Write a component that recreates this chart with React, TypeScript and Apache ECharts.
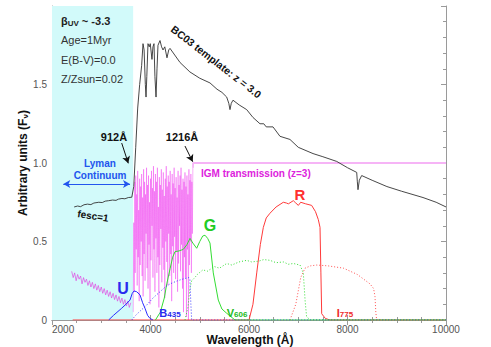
import React, { useEffect, useRef } from "react";
import * as echarts from "echarts";

// ---- data ----
const X_MIN = 2000;
const X_MAX = 10000;
const Y_MAX = 2.0;
const LYMAN_LIMIT = 3648; // 912 A * (1+z)
const LYA = 4864; // 1216 A * (1+z)

const BC03: [number, number][] = [
  [2450, 0.72], [2520, 0.726], [2580, 0.722], [2650, 0.734], [2720, 0.738], [2790, 0.735], [2850, 0.745],
  [2950, 0.75], [3020, 0.748], [3080, 0.757], [3150, 0.76], [3230, 0.764], [3300, 0.762], [3350, 0.77],
  [3420, 0.774], [3480, 0.772], [3550, 0.78], [3620, 0.782], [3660, 0.85], [3700, 1.1], [3740, 1.35],
  [3780, 1.5], [3820, 1.62], [3848, 1.76], [3870, 1.72], [3895, 1.5], [3909, 1.42], [3925, 1.55],
  [3949, 1.76], [3975, 1.74], [3995, 1.76], [4030, 1.66], [4050, 1.74], [4071, 1.76], [4090, 1.55],
  [4112, 1.42], [4132, 1.6], [4152, 1.75], [4193, 1.78], [4225, 1.74], [4254, 1.72], [4290, 1.74],
  [4335, 1.67], [4370, 1.72], [4396, 1.73], [4600, 1.64], [4800, 1.58], [5000, 1.54], [5208, 1.51],
  [5350, 1.47], [5450, 1.45], [5547, 1.42], [5590, 1.38], [5614, 1.34], [5640, 1.38], [5675, 1.4],
  [5800, 1.37], [5953, 1.34], [6081, 1.29], [6223, 1.25], [6300, 1.25], [6350, 1.23], [6487, 1.23],
  [6629, 1.17], [6832, 1.15], [7000, 1.1], [7300, 1.06], [7500, 1.04], [7781, 1.01], [8000, 0.97],
  [8187, 0.94], [8200, 0.88], [8213, 0.83], [8240, 0.89], [8288, 0.92], [8500, 0.89], [8800, 0.85],
  [9100, 0.82], [9533, 0.78], [9800, 0.75], [10000, 0.72],
];

// IGM transmission: Lyman-alpha forest between 912 and 1216 A (rest), 10 A steps
const FOREST_START = 3650;
const FOREST_STEP = 10;
const FOREST_VALUES = [
  0.05, 0.62, 0.18, 0.88, 0.3, 0.92,
  0.45, 0.8, 0.22, 0.95, 0.4, 0.7, 0.12, 0.9, 0.35, 0.85,
  0.5, 0.93, 0.28, 0.78, 0.15, 0.96, 0.42, 0.88, 0.25, 0.8,
  0.55, 0.97, 0.33, 0.86, 0.2, 0.92, 0.48, 0.75, 0.1, 0.9,
  0.38, 0.95, 0.6, 0.84, 0.27, 0.98, 0.45, 0.82, 0.18, 0.93,
  0.52, 0.88, 0.3, 0.97, 0.4, 0.72, 0.08, 0.91, 0.35, 0.86,
  0.58, 0.96, 0.24, 0.83, 0.46, 0.94, 0.32, 0.79, 0.14, 0.9,
  0.5, 0.98, 0.37, 0.85, 0.22, 0.92, 0.55, 0.88, 0.28, 0.95,
  0.42, 0.8, 0.12, 0.93, 0.47, 0.87, 0.3, 0.97, 0.53, 0.84,
  0.26, 0.91, 0.44, 0.78, 0.18, 0.95, 0.36, 0.86, 0.6, 0.92,
  0.31, 0.97, 0.48, 0.83, 0.2, 0.9, 0.05, 0.88, 0.4, 0.94,
  0.27, 0.85, 0.02, 0.92, 0.45, 0.8, 0.0, 0.96, 0.35, 0.89,
  0.5, 0.93, 0.3, 0.88, 0.55, 0.97,
];
const IGM_FLAT: [number, number][] = [[LYA, 0.97], [LYA, 1.0], [10000, 1.0]];

// Lyman continuum transmission, 30 A steps
const LYC_START = 2400;
const LYC_STEP = 30;
const LYC_VALUES = [
  0.31, 0.27, 0.3, 0.25, 0.29, 0.26, 0.28, 0.23, 0.27, 0.24,
  0.26, 0.22, 0.25, 0.21, 0.24, 0.2, 0.23, 0.19, 0.22, 0.18,
  0.21, 0.17, 0.2, 0.16, 0.19, 0.15, 0.18, 0.14, 0.17, 0.13,
  0.16, 0.12, 0.15, 0.11, 0.14, 0.1, 0.13, 0.09, 0.12, 0.08, 0.11,
];

const U_FILTER: [number, number][] = [
  [3150, 0], [3250, 0.03], [3415, 0.075], [3500, 0.1], [3584, 0.127], [3630, 0.17], [3665, 0.185],
  [3720, 0.18], [3787, 0.16], [3840, 0.11], [3888, 0.075], [3940, 0.03], [3990, 0.01], [4050, 0],
];
const B435: [number, number][] = [
  [3620, 0], [3700, 0.03], [3800, 0.06], [3923, 0.095], [4050, 0.14], [4193, 0.18], [4300, 0.21],
  [4396, 0.23], [4550, 0.25], [4700, 0.265], [4780, 0.27], [4800, 0.26], [4820, 0.1], [4836, 0], [10000, 0],
];
const G_FILTER: [number, number][] = [
  [4100, 0], [4200, 0.05], [4280, 0.14], [4330, 0.23], [4400, 0.33], [4450, 0.4], [4497, 0.435],
  [4580, 0.44], [4666, 0.45], [4740, 0.48], [4802, 0.52], [4860, 0.49], [4938, 0.457], [5000, 0.5],
  [5060, 0.535], [5107, 0.54], [5160, 0.52], [5208, 0.49], [5275, 0.3], [5376, 0.127], [5450, 0.07],
  [5547, 0.043], [5716, 0], [10000, 0],
];
const V606: [number, number][] = [
  [4700, 0], [4760, 0.08], [4800, 0.2], [4836, 0.25], [4900, 0.27], [4950, 0.29], [5066, 0.32],
  [5150, 0.31], [5300, 0.34], [5400, 0.33], [5547, 0.36], [5650, 0.35], [5800, 0.37], [5953, 0.38],
  [6050, 0.37], [6200, 0.375], [6300, 0.385], [6426, 0.38], [6550, 0.365], [6697, 0.37], [6800, 0.355],
  [6900, 0.36], [7036, 0.35], [7103, 0.3], [7140, 0.12], [7170, 0.02], [7250, 0], [10000, 0],
];
const R_FILTER: [number, number][] = [
  [2420, 0], [6000, 0], [6080, 0.1], [6157, 0.3], [6230, 0.48], [6291, 0.59], [6350, 0.65],
  [6426, 0.68], [6550, 0.72], [6697, 0.75], [6760, 0.745], [6800, 0.74], [6900, 0.76], [6950, 0.745],
  [7002, 0.73], [7050, 0.75], [7150, 0.74], [7272, 0.73], [7350, 0.69], [7407, 0.64], [7442, 0.59],
  [7460, 0.3], [7476, 0.04], [7550, 0.01], [7645, 0], [10000, 0],
];
const I775: [number, number][] = [
  [6832, 0], [6950, 0.1], [7050, 0.27], [7137, 0.33], [7250, 0.345], [7375, 0.35], [7600, 0.345],
  [7919, 0.33], [8200, 0.29], [8457, 0.23], [8530, 0.2], [8558, 0.15], [8575, 0.05], [8592, 0], [10000, 0],
];

// annotation arrows (data coordinates)
const ARROW_912: [number, number][] = [[3415, 1.127], [3549, 0.998]];
const ARROW_1216: [number, number][] = [[4700, 1.108], [4857, 1.008]];
const LYMAN_ARROW: [number, number][] = [[2229, 0.866], [3584, 0.866]];

const FONT = "'Liberation Sans', Arial, Helvetica, sans-serif";

export default function App() {
  const ref = useRef<HTMLDivElement>(null);
  useEffect(() => {
    if (!ref.current) return;
    const chart = echarts.init(ref.current, undefined, { renderer: "svg" });
    const forest: [number, number][] = FOREST_VALUES.map((v, i) => [FOREST_START + i * FOREST_STEP, v]);
    const lyc: [number, number][] = LYC_VALUES.map((v, i) => [LYC_START + i * LYC_STEP, v]);

    const axisCommon = {
      type: "value" as const,
      axisLine: { show: true, lineStyle: { color: "#9a9a9a", width: 1 } },
      axisTick: { show: true, inside: true, length: 5, lineStyle: { color: "#9a9a9a" } },
      minorTick: { show: true, length: 3, lineStyle: { color: "#9a9a9a" } },
      splitLine: { show: false },
    };
    const line = (data: [number, number][], color: string, width = 1, type: any = "solid", z = 3, opacity = 1) => ({
      type: "line",
      data,
      showSymbol: false,
      symbol: "none",
      silent: true,
      z,
      lineStyle: { color, width, type, opacity },
    });

    chart.setOption({
      animation: false,
      grid: { left: 52, right: 45, top: 6, bottom: 27 },
      xAxis: [
        {
          ...axisCommon,
          min: X_MIN, max: X_MAX, interval: 2000, position: "bottom",
          minorTick: { ...axisCommon.minorTick, splitNumber: 4 },
          axisLabel: {
            color: "#555", fontSize: 10, fontFamily: FONT, margin: 4,
            alignMinLabel: "left",
            formatter: (v: number) => String(v),
          },
        },
        {
          ...axisCommon,
          min: X_MIN, max: X_MAX, interval: 2000, position: "top",
          minorTick: { ...axisCommon.minorTick, splitNumber: 4 },
          axisLabel: { show: false },
        },
      ],
      yAxis: [
        {
          ...axisCommon,
          min: 0, max: Y_MAX, interval: 0.5, position: "left",
          minorTick: { ...axisCommon.minorTick, splitNumber: 5 },
          axisLabel: {
            color: "#555", fontSize: 10, fontFamily: FONT, margin: 5,
            formatter: (v: number) => (v === 0 ? "0" : v >= Y_MAX ? "" : v.toFixed(1)),
          },
        },
        {
          ...axisCommon,
          min: 0, max: Y_MAX, interval: 0.5, position: "right",
          minorTick: { ...axisCommon.minorTick, splitNumber: 5 },
          axisLabel: { show: false },
        },
      ],
      series: [
        {
          type: "line", data: [], silent: true, z: 0,
          markArea: {
            silent: true,
            itemStyle: { color: "#d2fafa" },
            data: [[{ xAxis: X_MIN }, { xAxis: LYMAN_LIMIT }]],
          },
        },
        line(IGM_FLAT, "#f6b4f6", 1.8, "solid", 2),
        line(forest, "#ee22ee", 0.6, "solid", 2, 0.6),
        line(lyc, "#e040e0", 1, "solid", 2, 0.65),
        line(R_FILTER, "#ff3a3a", 1),
        line(I775, "#ff5050", 1, [1, 2]),
        line(V606, "#33dd33", 1, [1, 2]),
        line(G_FILTER, "#33dd33", 1),
        line(B435, "#3a3aff", 1, [1, 2]),
        line(U_FILTER, "#2a2aff", 1),
        line(BC03, "#333333", 0.9, "solid", 4),
        {
          type: "line", data: [], silent: true, z: 5,
          markLine: {
            silent: true,
            symbol: ["none", "arrow"],
            symbolSize: [6, 7],
            label: { show: false },
            lineStyle: { color: "#111", width: 1, type: "solid" },
            data: [
              [{ coord: ARROW_912[0] }, { coord: ARROW_912[1] }],
              [{ coord: ARROW_1216[0] }, { coord: ARROW_1216[1] }],
            ],
          },
        },
        {
          type: "line", data: [], silent: true, z: 5,
          markLine: {
            silent: true,
            symbol: ["arrow", "arrow"],
            symbolSize: [6, 7],
            label: { show: false },
            lineStyle: { color: "#2255ee", width: 1.2, type: "solid" },
            data: [[{ coord: LYMAN_ARROW[0] }, { coord: LYMAN_ARROW[1] }]],
          },
        },
      ],
      graphic: [
        {
          type: "text", x: 61, y: 21, z: 10,
          style: {
            text: "{b|β}{s|UV}{b| ~ -3.3}",
            verticalAlign: "middle",
            rich: {
              b: { fontFamily: FONT, fontSize: 11, fontWeight: "bold", fill: "#222" },
              s: { fontFamily: FONT, fontSize: 8, fontWeight: "bold", fill: "#222", padding: [4, 0, 0, 0] },
            },
          },
        },
        ...["Age=1Myr", "E(B-V)=0.0", "Z/Zsun=0.02"].map((t, i) => ({
          type: "text", x: 61, y: 40 + i * 19.5, z: 10,
          style: { text: t, fontFamily: FONT, fontSize: 11, fill: "#333", verticalAlign: "middle" },
        })),
        {
          type: "text", x: 216, y: 62, rotation: -0.66, z: 10,
          style: { text: "BC03 template: z = 3.0", fontFamily: FONT, fontSize: 10.5, fontWeight: "bold", fill: "#111", align: "center", verticalAlign: "middle" },
        },
        {
          type: "text", x: 114, y: 137, z: 10,
          style: { text: "912Å", fontFamily: FONT, fontSize: 11, fontWeight: "bold", fill: "#111", align: "center", verticalAlign: "middle" },
        },
        {
          type: "text", x: 182, y: 137, z: 10,
          style: { text: "1216Å", fontFamily: FONT, fontSize: 11, fontWeight: "bold", fill: "#111", align: "center", verticalAlign: "middle" },
        },
        {
          type: "text", x: 100, y: 163, z: 10,
          style: { text: "Lyman", fontFamily: FONT, fontSize: 10, fontWeight: "bold", fill: "#2255ee", align: "center", verticalAlign: "middle" },
        },
        {
          type: "text", x: 100, y: 175, z: 10,
          style: { text: "Continuum", fontFamily: FONT, fontSize: 10, fontWeight: "bold", fill: "#2255ee", align: "center", verticalAlign: "middle" },
        },
        {
          type: "text", x: 93, y: 216, rotation: -0.15, z: 10,
          style: { text: "fesc=1", fontFamily: FONT, fontSize: 10, fontWeight: "bold", fill: "#111", align: "center", verticalAlign: "middle" },
        },
        {
          type: "text", x: 201, y: 173, z: 10,
          style: { text: "IGM transmission (z=3)", fontFamily: FONT, fontSize: 10, fontWeight: "bold", fill: "#dd22dd", verticalAlign: "middle" },
        },
        {
          type: "text", x: 123, y: 288, z: 10,
          style: { text: "U", fontFamily: FONT, fontSize: 16, fontWeight: "bold", fill: "#2a2aee", align: "center", verticalAlign: "middle" },
        },
        {
          type: "text", x: 210, y: 225, z: 10,
          style: { text: "G", fontFamily: FONT, fontSize: 16, fontWeight: "bold", fill: "#22cc22", align: "center", verticalAlign: "middle" },
        },
        {
          type: "text", x: 300, y: 194, z: 10,
          style: { text: "R", fontFamily: FONT, fontSize: 15, fontWeight: "bold", fill: "#ff3030", align: "center", verticalAlign: "middle" },
        },
        ...[
          { t: "B", s: "435", x: 170, c: "#2a2aee" },
          { t: "V", s: "606", x: 237, c: "#22bb22" },
          { t: "I", s: "775", x: 345, c: "#ee2a2a" },
        ].map((o) => ({
          type: "text", x: o.x, y: 313, z: 10,
          style: {
            text: `{a|${o.t}}{b|${o.s}}`,
            align: "center", verticalAlign: "middle",
            rich: {
              a: { fontFamily: FONT, fontSize: 11, fontWeight: "bold", fill: o.c },
              b: { fontFamily: FONT, fontSize: 8, fontWeight: "bold", fill: o.c, padding: [3, 0, 0, 0] },
            },
          },
        })),
        {
          type: "text", x: 250, y: 340, z: 10,
          style: { text: "Wavelength (Å)", fontFamily: FONT, fontSize: 12, fontWeight: "bold", fill: "#111", align: "center", verticalAlign: "middle" },
        },
        {
          type: "text", x: 23, y: 163, rotation: Math.PI / 2, z: 10,
          style: {
            text: "{a|Arbitrary units (F}{s|ν}{a|)}",
            align: "center", verticalAlign: "middle",
            rich: {
              a: { fontFamily: FONT, fontSize: 12, fontWeight: "bold", fill: "#111" },
              s: { fontFamily: FONT, fontSize: 8, fontWeight: "bold", fill: "#111", padding: [4, 0, 0, 0] },
            },
          },
        },
      ],
    });
    return () => chart.dispose();
  }, []);
  return (
    <div
      ref={ref}
      style={{ position: "fixed", left: 0, top: 0, width: 491, height: 347, background: "#fff" }}
    />
  );
}
